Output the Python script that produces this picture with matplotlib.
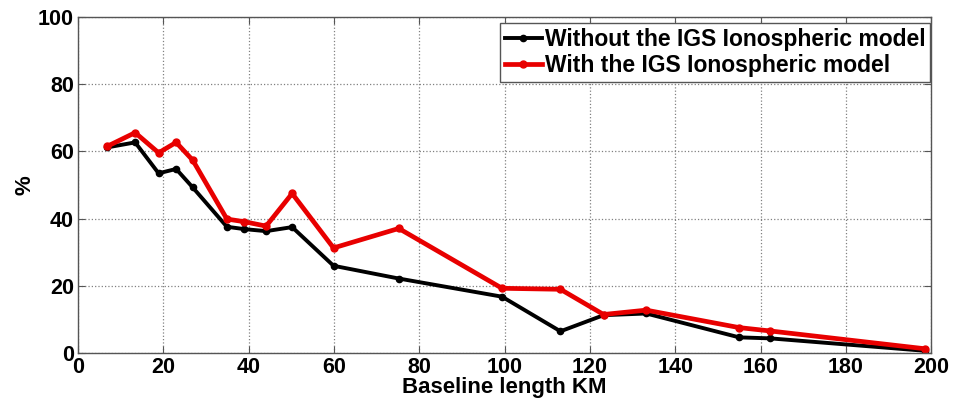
import matplotlib.pyplot as plt
import matplotlib.ticker as ticker

plt.rcParams['font.family'] = ['Liberation Sans', 'DejaVu Sans']
plt.rcParams['font.weight'] = 'bold'

# baseline lengths (km)
baseline_km = [6.8, 13.4, 18.9, 23.0, 26.9, 34.9, 39.0, 44.1, 50.2, 59.9,
               75.2, 99.4, 113.1, 123.2, 133.2, 155.0, 162.3, 198.6]
without_igs = [61.2, 62.7, 53.5, 54.8, 49.3, 37.6, 36.9, 36.3, 37.5, 26.0,
               22.2, 16.8, 6.5, 11.3, 11.8, 4.7, 4.4, 0.7]
with_igs = [61.5, 65.6, 59.6, 62.7, 57.4, 39.9, 39.1, 37.8, 47.5, 31.3,
            37.1, 19.3, 19.0, 11.5, 12.8, 7.6, 6.6, 1.3]

x_ticks = [0, 20, 40, 60, 80, 100, 120, 140, 160, 180, 200]
y_ticks = [0, 20, 40, 60, 80, 100]


def main():
    fig = plt.figure(figsize=(9.57, 4.05), dpi=100)
    ax = fig.add_axes([0.0815, 0.128, 0.8915, 0.83])

    ax.plot(baseline_km, without_igs, color='black', linewidth=2.8,
            marker='o', markersize=4.5, label='Without the IGS Ionospheric model')
    ax.plot(baseline_km, with_igs, color='#e80000', linewidth=3.4,
            marker='o', markersize=5, label='With the IGS Ionospheric model')

    ax.set_xlim(0, 200)
    ax.set_ylim(0, 100)
    ax.set_xticks(x_ticks)
    ax.set_yticks(y_ticks)
    ax.xaxis.set_major_formatter(ticker.FormatStrFormatter('%d'))

    ax.grid(True, linestyle=':', color='#808080', linewidth=0.9)
    ax.tick_params(axis='both', labelsize=15.5, direction='in', length=5,
                   top=True, right=True, color='#555555', pad=3)
    for lbl in ax.get_xticklabels() + ax.get_yticklabels():
        lbl.set_fontweight('bold')
    for spine in ax.spines.values():
        spine.set_color('#555555')
        spine.set_linewidth(1.0)

    ax.set_xlabel('Baseline length KM', fontsize=16, fontweight='bold', labelpad=-1)
    ax.set_ylabel('%', fontsize=16, fontweight='bold', labelpad=2)

    leg = ax.legend(loc='upper right', bbox_to_anchor=(0.999, 0.982),
                    handlelength=1.6, handletextpad=0.15, borderpad=0.2,
                    labelspacing=0.15, fancybox=False, framealpha=1,
                    borderaxespad=0, prop={'weight': 'bold', 'size': 16.5})
    leg.get_frame().set_edgecolor('#555555')
    leg.get_frame().set_linewidth(1.0)

    fig.savefig('out.png', dpi=100)
    plt.close(fig)


if __name__ == '__main__':
    main()
